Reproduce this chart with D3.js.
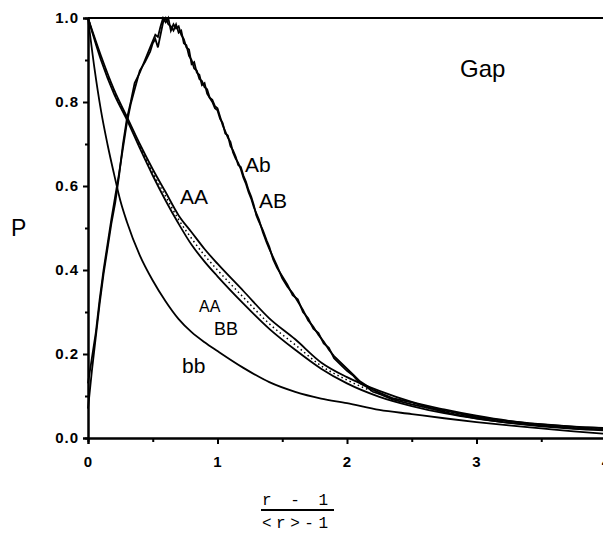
<!DOCTYPE html>
<html>
<head>
<meta charset="utf-8">
<script src="https://cdn.jsdelivr.net/npm/d3@7"></script>
<style>
  body { margin: 0; background: #fff; }
  svg { display: block; }
</style>
</head>
<body>
<div id="gap"></div>
<script>
var width = 603;
var height = 533;
var margin = {top: 18, right: 0, bottom: 95, left: 88};

// smooth curves share one x grid
var xsSmooth = [0, 0.1, 0.2, 0.3, 0.4, 0.5, 0.6, 0.7, 0.8, 0.9, 1.0, 1.2, 1.4, 1.6, 1.8, 2.0, 2.25, 2.5, 2.75, 3.0, 3.25, 3.5, 3.75, 4.0];
var AA_big = [1.0, 0.91, 0.83, 0.765, 0.70, 0.64, 0.585, 0.53, 0.49, 0.45, 0.415, 0.35, 0.285, 0.235, 0.18, 0.145, 0.112, 0.086, 0.068, 0.053, 0.041, 0.033, 0.027, 0.023];
var AA_small = [1.0, 0.905, 0.825, 0.762, 0.695, 0.632, 0.575, 0.52, 0.475, 0.435, 0.40, 0.335, 0.272, 0.222, 0.172, 0.138, 0.105, 0.081, 0.063, 0.049, 0.038, 0.030, 0.024, 0.020];
var BB = [1.0, 0.90, 0.82, 0.758, 0.69, 0.625, 0.565, 0.51, 0.46, 0.42, 0.385, 0.32, 0.26, 0.21, 0.165, 0.13, 0.098, 0.076, 0.059, 0.046, 0.036, 0.028, 0.022, 0.018];

var xsbb = [0, 0.05, 0.1, 0.15, 0.2, 0.25, 0.3, 0.4, 0.5, 0.6, 0.7, 0.8, 0.9, 1.0, 1.2, 1.4, 1.6, 1.8, 2.0, 2.25, 2.5, 2.75, 3.0, 3.25, 3.5, 3.75, 4.0];
var bb = [1.0, 0.88, 0.78, 0.70, 0.63, 0.565, 0.515, 0.435, 0.375, 0.325, 0.283, 0.252, 0.228, 0.207, 0.167, 0.133, 0.11, 0.094, 0.083, 0.067, 0.057, 0.047, 0.038, 0.030, 0.023, 0.016, 0.010];

// noisy curves
var xsNoisy = [0, 0.03, 0.06, 0.09, 0.12, 0.15, 0.18, 0.21, 0.24, 0.27, 0.30, 0.33, 0.36, 0.40, 0.44, 0.48, 0.50, 0.52, 0.54, 0.56, 0.58, 0.60, 0.62, 0.64, 0.66, 0.68, 0.70, 0.72, 0.74, 0.76, 0.78, 0.80, 0.82, 0.84, 0.86, 0.88, 0.90, 0.92, 0.94, 0.96, 0.98, 1.00, 1.02, 1.04, 1.06, 1.08, 1.10, 1.12, 1.14, 1.16, 1.18, 1.20, 1.22, 1.24, 1.26, 1.28, 1.30, 1.32, 1.35, 1.38, 1.40, 1.43, 1.46, 1.50, 1.54, 1.58, 1.62, 1.66, 1.70, 1.74, 1.78, 1.82, 1.86, 1.90, 1.95, 2.0, 2.05, 2.10, 2.15, 2.2, 2.25, 2.35, 2.5, 2.65, 2.8, 3.0, 3.2, 3.4, 3.6, 3.8, 4.0];
var Ab = [0.07, 0.16, 0.24, 0.32, 0.39, 0.45, 0.51, 0.56, 0.625, 0.70, 0.76, 0.80, 0.845, 0.87, 0.90, 0.93, 0.945, 0.96, 0.955, 0.98, 1.0, 0.99, 1.0, 0.97, 0.985, 0.975, 0.98, 0.96, 0.95, 0.93, 0.925, 0.89, 0.895, 0.87, 0.865, 0.84, 0.845, 0.82, 0.81, 0.805, 0.79, 0.785, 0.765, 0.745, 0.73, 0.715, 0.705, 0.68, 0.665, 0.655, 0.64, 0.62, 0.605, 0.585, 0.57, 0.55, 0.535, 0.52, 0.49, 0.465, 0.45, 0.43, 0.41, 0.38, 0.36, 0.345, 0.325, 0.305, 0.28, 0.265, 0.245, 0.23, 0.21, 0.195, 0.18, 0.165, 0.15, 0.135, 0.125, 0.115, 0.108, 0.095, 0.085, 0.072, 0.062, 0.05, 0.042, 0.035, 0.030, 0.026, 0.024];
var AB = [0.13, 0.19, 0.25, 0.33, 0.40, 0.46, 0.52, 0.575, 0.63, 0.69, 0.75, 0.795, 0.83, 0.875, 0.895, 0.92, 0.94, 0.95, 0.93, 0.96, 0.99, 1.0, 0.985, 0.98, 0.97, 0.985, 0.965, 0.97, 0.94, 0.935, 0.91, 0.90, 0.88, 0.875, 0.855, 0.85, 0.835, 0.83, 0.81, 0.80, 0.785, 0.78, 0.76, 0.75, 0.725, 0.72, 0.695, 0.685, 0.67, 0.65, 0.645, 0.625, 0.61, 0.59, 0.575, 0.555, 0.53, 0.515, 0.495, 0.47, 0.455, 0.425, 0.405, 0.385, 0.365, 0.34, 0.33, 0.30, 0.285, 0.26, 0.25, 0.225, 0.215, 0.19, 0.175, 0.16, 0.148, 0.13, 0.122, 0.11, 0.105, 0.092, 0.08, 0.07, 0.058, 0.047, 0.038, 0.032, 0.027, 0.022, 0.020];

var xTicks = [0, 1, 2, 3, 4];
var yTicks = [0.0, 0.2, 0.4, 0.6, 0.8, 1.0];
var xMinor = [0.5, 1.5, 2.5, 3.5];
var yMinor = [0.1, 0.3, 0.5, 0.7, 0.9];

var svg = d3.select("#gap")
    .append("svg")
    .attr("width", width)
    .attr("height", height);

var w = 518;  // axis runs to x=4, a bit past the right edge
var h = 420;

var x = d3.scaleLinear().domain([0, 4]).range([0, w]);
var y = d3.scaleLinear().domain([0, 1]).range([h, 0]);

var g = svg.append("g").attr("transform", "translate(" + margin.left + "," + margin.top + ")");

function pts(xs, ys) {
  return xs.map(function(v, i) { return [v, ys[i]]; });
}

var smooth = d3.line()
    .x(function(d) { return x(d[0]); })
    .y(function(d) { return y(d[1]); })
    .curve(d3.curveMonotoneX);

var rough = d3.line()
    .x(function(d) { return x(d[0]); })
    .y(function(d) { return y(d[1]); });

// curves
g.append("path").attr("d", smooth(pts(xsbb, bb)))
    .attr("fill", "none").attr("stroke", "#000").attr("stroke-width", 1.8);
g.append("path").attr("d", smooth(pts(xsSmooth, BB)))
    .attr("fill", "none").attr("stroke", "#000").attr("stroke-width", 1.8);
g.append("path").attr("d", smooth(pts(xsSmooth, AA_small)))
    .attr("fill", "none").attr("stroke", "#000").attr("stroke-width", 1.5)
    .attr("stroke-dasharray", "1.5,3");
g.append("path").attr("d", smooth(pts(xsSmooth, AA_big)))
    .attr("fill", "none").attr("stroke", "#000").attr("stroke-width", 1.8);
g.append("path").attr("d", rough(pts(xsNoisy, Ab)))
    .attr("fill", "none").attr("stroke", "#000").attr("stroke-width", 1.8);
g.append("path").attr("d", rough(pts(xsNoisy, AB)))
    .attr("fill", "none").attr("stroke", "#000").attr("stroke-width", 1.8);

// axes
g.append("g")
    .attr("class", "axis axis--x")
    .attr("transform", "translate(0," + h + ")")
    .call(d3.axisBottom(x).tickValues(xTicks).tickFormat(d3.format("d")).tickSize(6).tickPadding(12));

g.append("g")
    .attr("transform", "translate(0," + h + ")")
    .call(d3.axisBottom(x).tickValues(xMinor).tickFormat("").tickSize(4));

g.append("g")
    .attr("class", "axis axis--y")
    .call(d3.axisLeft(y).tickValues(yTicks).tickFormat(d3.format(".1f")).tickSize(5).tickPadding(4));

g.append("g")
    .call(d3.axisLeft(y).tickValues(yMinor).tickFormat("").tickSize(3));

g.selectAll(".domain").attr("stroke", "#000").attr("stroke-width", 2);
g.selectAll(".tick line").attr("stroke", "#000").attr("stroke-width", 2);
g.selectAll(".tick text")
    .attr("fill", "#000")
    .style("font-family", "Liberation Sans, Arial, sans-serif")
    .style("font-size", "15px")
    .style("font-weight", "bold")
    .style("letter-spacing", "1px");

// top frame
g.append("line")
    .attr("x1", 0).attr("x2", w)
    .attr("y1", y(1)).attr("y2", y(1))
    .attr("stroke", "#000").attr("stroke-width", 2);

// labels
var lab = [
  {t: "Gap", x: 460, y: 77, s: 24},
  {t: "Ab", x: 245, y: 172, s: 21},
  {t: "AB", x: 259, y: 208, s: 21},
  {t: "AA", x: 180, y: 204, s: 21},
  {t: "AA", x: 199, y: 312, s: 16},
  {t: "BB", x: 214, y: 335, s: 18},
  {t: "bb", x: 182, y: 373, s: 21}
];
svg.selectAll(".lab")
    .data(lab)
    .enter().append("text")
      .attr("class", "lab")
      .attr("x", function(d) { return d.x; })
      .attr("y", function(d) { return d.y; })
      .style("font-family", "Liberation Sans, Arial, sans-serif")
      .style("font-size", function(d) { return d.s + "px"; })
      .text(function(d) { return d.t; });

svg.append("text")
    .attr("x", 11).attr("y", 236)
    .style("font-family", "Liberation Sans, Arial, sans-serif")
    .style("font-size", "23px")
    .text("P");

// x axis label as a fraction
svg.append("text")
    .attr("x", 262).attr("y", 505)
    .style("font-family", "Liberation Mono, monospace")
    .style("font-size", "16px")
    .style("letter-spacing", "4.5px")
    .text("r - 1");
svg.append("line")
    .attr("x1", 261).attr("x2", 334)
    .attr("y1", 510).attr("y2", 510)
    .attr("stroke", "#000").attr("stroke-width", 2);
svg.append("text")
    .attr("x", 262).attr("y", 528)
    .style("font-family", "Liberation Mono, monospace")
    .style("font-size", "16px")
    .style("letter-spacing", "4.5px")
    .text("<r>-1");
</script>
</body>
</html>
